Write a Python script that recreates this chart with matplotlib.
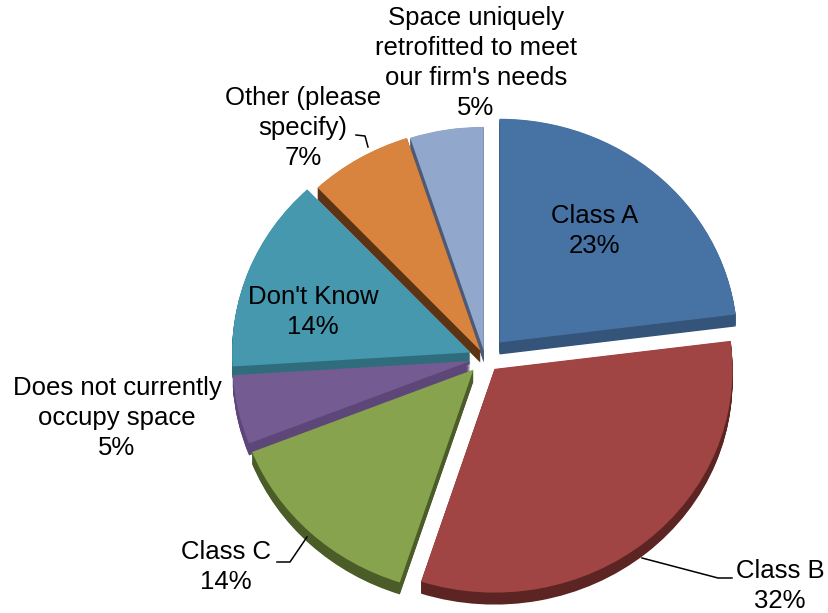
import numpy as np
import matplotlib.pyplot as plt

plt.rcParams['font.family'] = ['Liberation Sans', 'DejaVu Sans']

# survey answers, clockwise from 12 o'clock
labels = ['Class A', 'Class B', 'Class C', 'Does not currently\noccupy space',
          "Don't Know", 'Other (please\nspecify)',
          "Space uniquely\nretrofitted to meet\nour firm's needs"]
values = [23, 32, 14, 5, 14, 7, 5]

top_colors = ['#4672a4', '#a04543', '#87a34e', '#745c93',
              '#4598ae', '#d8843f', '#91a7cc']
side_colors = ['#34547a', '#5c2422', '#4c5c29', '#5d4778',
               '#2f6c7c', '#5a3414', '#4c5a78']
explode_px = [22, 15, 17, 15, 16, 9, 8]

W, H = 829, 613
TILT = 0.94          # vertical squash of the disc
R = 238              # radius in px
DEPTH = 12           # thickness in px
CX, CY = 485, 358    # centre in px (y from top)

fig = plt.figure(figsize=(W / 100, H / 100), dpi=100)
ax = fig.add_axes([0, 0, 1, 1])

center = (CX, (H - CY) / TILT)

# extruded sides: stack of darker discs shifted downwards
for d in np.linspace(DEPTH, 0.5, 16):
    ax.pie(values, explode=explode_px, colors=side_colors, startangle=90,
           counterclock=False, radius=R,
           center=(center[0], center[1] - d / TILT),
           wedgeprops=dict(linewidth=0))

# top faces
wedges, _ = ax.pie(values, explode=explode_px, colors=top_colors,
                   startangle=90, counterclock=False, radius=R,
                   center=center, wedgeprops=dict(linewidth=0))

ax.set_aspect('auto')
ax.set_xlim(0, W)
ax.set_ylim(0, H / TILT)
ax.axis('off')


def fx(px):
    return px / W


def fy(py):
    return 1 - py / H


FS = 18.5
label_pos = [(595, 231), (780, 586), (226, 567), (117, 418),
             (313, 312), (303, 128), (476, 63)]
for lab, val, (px, py) in zip(labels, values, label_pos):
    ax.text(fx(px), fy(py), f'{lab}\n{val}%', transform=ax.transAxes,
            ha='center', va='center', fontsize=FS, linespacing=1.3)

# leader lines
leaders = [
    [(642, 558), (718, 578), (732, 578)],
    [(307, 537), (290, 562), (277, 562)],
    [(356, 135), (365, 136), (368, 147)],
]
for pts in leaders:
    xs = [fx(p[0]) for p in pts]
    ys = [fy(p[1]) for p in pts]
    ax.plot(xs, ys, color='black', lw=1.1, transform=ax.transAxes)

fig.savefig('out.png', dpi=100)
